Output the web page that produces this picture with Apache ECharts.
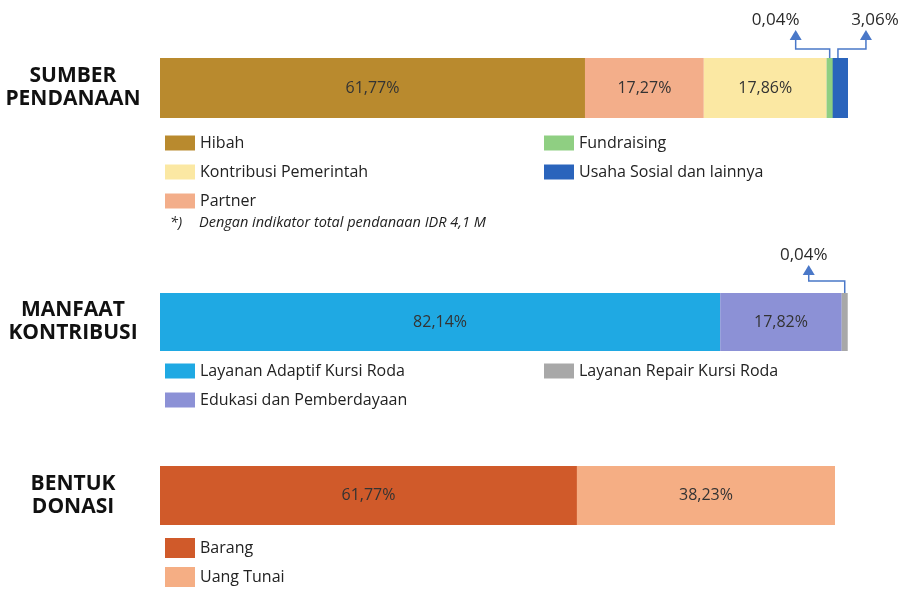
<!DOCTYPE html>
<html>
<head>
<meta charset="utf-8">
<title>Sumber Pendanaan</title>
<script src="https://cdn.jsdelivr.net/npm/echarts@6/dist/echarts.min.js"></script>
<style>
  html, body { margin: 0; padding: 0; background: #fff; }
  #main { width: 906px; height: 592px; }
</style>
</head>
<body>
<div id="main"></div>
<script>
// data (persen)
var groups = ["SUMBER\nPENDANAAN", "MANFAAT\nKONTRIBUSI", "BENTUK\nDONASI"];

var sumberNames = ["Hibah", "Partner", "Kontribusi Pemerintah", "Fundraising", "Usaha Sosial dan lainnya"];
var sumberValues = [61.77, 17.27, 17.86, 0.04, 3.06];

var manfaatNames = ["Layanan Adaptif Kursi Roda", "Edukasi dan Pemberdayaan", "Layanan Repair Kursi Roda"];
var manfaatValues = [82.14, 17.82, 0.04];

var bentukNames = ["Barang", "Uang Tunai"];
var bentukValues = [61.77, 38.23];

var footnote = "Dengan indikator total pendanaan IDR 4,1 M";

// warna
var sumberColors = ["#B98A2E", "#F3AE8A", "#FBE8A3", "#8FCF82", "#2A64BC"];
var manfaatColors = ["#1FA9E3", "#8C91D6", "#A8A8A8"];
var bentukColors = ["#D05A2A", "#F5AE84"];

var FONT = "Open Sans";

function fmt(v) {
  return v.toFixed(2).replace(".", ",") + "%";
}

function buildSeries(names, values, colors, idx) {
  return names.map(function (n, i) {
    return {
      name: n,
      type: "bar",
      stack: "s" + idx,
      xAxisIndex: idx,
      yAxisIndex: idx,
      barWidth: "100%",
      clip: false,
      // segmen sangat kecil tetap terlihat
      barMinHeight: values[i] < 1 ? 6 : 0,
      z: values[i] < 1 ? 3 : 2,
      itemStyle: { color: colors[i] },
      emphasis: { disabled: true },
      label: {
        show: values[i] >= 5,
        position: "inside",
        fontFamily: FONT,
        fontSize: 16,
        color: "#333",
        formatter: function (p) { return fmt(p.value); }
      },
      data: [values[i]]
    };
  });
}

var chart = echarts.init(document.getElementById("main"));

var grids = [
  { left: 160, top: 58, width: 688, height: 60 },
  { left: 160, top: 293, width: 682, height: 58 },
  { left: 160, top: 466, width: 675, height: 59 }
];

var legendBase = {
  orient: "vertical",
  padding: 0,
  icon: "rect",
  itemWidth: 30,
  itemHeight: 15,
  itemGap: 13,
  selectedMode: false,
  textStyle: { fontFamily: FONT, fontSize: 16, color: "#222" }
};

function legend(data, left, top, extra) {
  return Object.assign({}, legendBase, { data: data, left: left, top: top }, extra || {});
}

var noteStyle = { fontFamily: FONT, fontSize: 14.5, fontStyle: "italic", fontWeight: "normal", color: "#222" };

var option = {
  backgroundColor: "#fff",
  animation: false,
  title: [
    { text: "*)", left: 170, top: 215, padding: 0, textStyle: noteStyle },
    { text: footnote, left: 199, top: 215, padding: 0, textStyle: noteStyle }
  ],
  grid: grids,
  xAxis: grids.map(function (g, i) {
    return { type: "value", gridIndex: i, min: 0, max: 100, show: false };
  }),
  yAxis: groups.map(function (g, i) {
    return {
      type: "category",
      gridIndex: i,
      data: [g],
      axisLine: { show: false },
      axisTick: { show: false },
      axisLabel: {
        align: "center",
        margin: 87,
        fontFamily: FONT,
        fontSize: 21,
        fontWeight: "bold",
        lineHeight: 23,
        color: "#111"
      }
    };
  }),
  legend: [
    legend(["Hibah", "Kontribusi Pemerintah", "Partner"], 165, 135),
    legend(["Fundraising", "Usaha Sosial dan lainnya"], 544, 135),
    legend(["Layanan Adaptif Kursi Roda", "Edukasi dan Pemberdayaan"], 165, 363),
    legend(["Layanan Repair Kursi Roda"], 544, 363),
    legend(["Barang", "Uang Tunai"], 165, 538, { itemHeight: 20, itemGap: 9 })
  ],
  series: []
    .concat(buildSeries(sumberNames, sumberValues, sumberColors, 0))
    .concat(buildSeries(manfaatNames, manfaatValues, manfaatColors, 1))
    .concat(buildSeries(bentukNames, bentukValues, bentukColors, 2))
};

chart.setOption(option);

// panah penunjuk untuk segmen kecil, posisi diambil dari layout bar
var ARROW = "#4A78C8";
function segLayout(name) {
  var s = chart.getModel().getSeriesByName(name)[0];
  return s.getData().getItemLayout(0);
}

function pointer(x, top, dx, elbow, label, textDx) {
  var yElbow = top - elbow;
  var ax = x + dx;
  var yBase = top - 18;
  return [
    {
      type: "polyline",
      shape: { points: [[x, top], [x, yElbow], [ax, yElbow], [ax, yBase]] },
      style: { stroke: ARROW, lineWidth: 1.5, fill: null },
      z: 10
    },
    {
      type: "polygon",
      shape: { points: [[ax - 6, yBase], [ax + 6, yBase], [ax, yBase - 10]] },
      style: { fill: ARROW },
      z: 10
    },
    {
      type: "text",
      x: ax + textDx,
      y: top - 38,
      style: {
        text: label,
        fontFamily: FONT,
        fontSize: 17,
        fill: "#2a2a2a",
        align: "center",
        verticalAlign: "middle"
      },
      z: 10
    }
  ];
}

var fl = segLayout(sumberNames[3]);
var ul = segLayout(sumberNames[4]);
var rl = segLayout(manfaatNames[2]);

var graphics = []
  .concat(pointer(fl.x + fl.width / 2, fl.y, -34, 9, fmt(sumberValues[3]), -20))
  .concat(pointer(ul.x + 11, ul.y, 28, 9, fmt(sumberValues[4]), 9))
  .concat(pointer(rl.x + rl.width / 2, rl.y, -36, 12, fmt(manfaatValues[2]), -5));

chart.setOption({ graphic: graphics });
</script>
</body>
</html>
